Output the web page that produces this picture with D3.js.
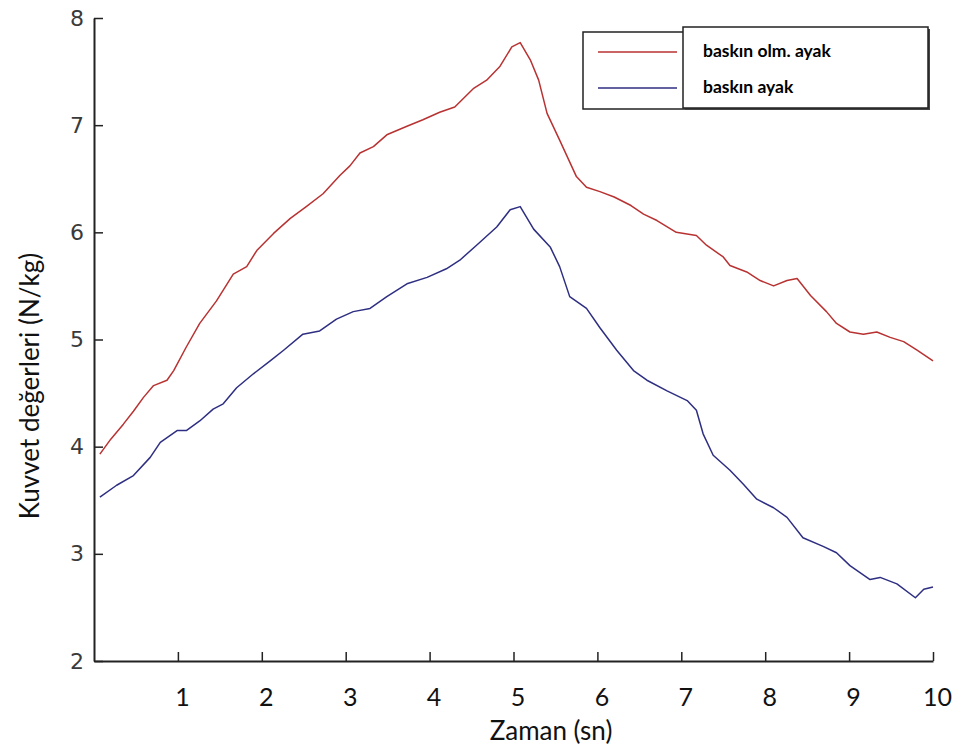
<!DOCTYPE html>
<html>
<head>
<meta charset="utf-8">
<script src="https://cdn.jsdelivr.net/npm/d3@7"></script>
<style>
  html, body { margin: 0; padding: 0; background: #fff; }
  svg { display: block; }
</style>
</head>
<body>
<svg id="chart" width="959" height="753"></svg>
<script>
// Time samples (s) and force values (N/kg) for each foot
const redTime = [0.07, 0.2, 0.35, 0.47, 0.59, 0.71, 0.87, 0.95, 1.10, 1.26, 1.46, 1.66, 1.82, 1.94, 2.14, 2.34, 2.53, 2.73, 2.93, 3.05, 3.17, 3.33, 3.49, 3.73, 3.92, 4.12, 4.30, 4.52, 4.68, 4.84, 4.98, 5.08, 5.20, 5.30, 5.40, 5.55, 5.75, 5.87, 6.03, 6.20, 6.40, 6.55, 6.71, 6.94, 7.18, 7.30, 7.50, 7.58, 7.78, 7.94, 8.10, 8.26, 8.38, 8.54, 8.73, 8.85, 9.01, 9.17, 9.33, 9.49, 9.65, 9.81, 10.0];
const redValues = [3.93, 4.07, 4.21, 4.33, 4.46, 4.57, 4.62, 4.71, 4.93, 5.15, 5.36, 5.61, 5.68, 5.83, 5.99, 6.13, 6.24, 6.36, 6.53, 6.62, 6.74, 6.80, 6.91, 6.99, 7.05, 7.12, 7.17, 7.34, 7.42, 7.55, 7.73, 7.77, 7.61, 7.42, 7.11, 6.86, 6.52, 6.42, 6.38, 6.33, 6.25, 6.17, 6.11, 6.00, 5.97, 5.88, 5.77, 5.69, 5.63, 5.55, 5.50, 5.55, 5.57, 5.41, 5.26, 5.15, 5.07, 5.05, 5.07, 5.02, 4.98, 4.90, 4.80];

const blueTime = [0.07, 0.27, 0.47, 0.67, 0.79, 0.99, 1.10, 1.26, 1.42, 1.54, 1.70, 1.90, 2.10, 2.26, 2.49, 2.69, 2.89, 3.09, 3.29, 3.49, 3.73, 3.97, 4.20, 4.36, 4.56, 4.80, 4.96, 5.08, 5.24, 5.44, 5.55, 5.67, 5.87, 6.03, 6.23, 6.43, 6.59, 6.83, 7.07, 7.18, 7.26, 7.38, 7.58, 7.74, 7.90, 8.10, 8.26, 8.45, 8.69, 8.85, 9.01, 9.25, 9.37, 9.57, 9.79, 9.89, 10.0];
const blueValues = [3.53, 3.64, 3.73, 3.90, 4.04, 4.15, 4.15, 4.24, 4.35, 4.40, 4.55, 4.68, 4.80, 4.90, 5.05, 5.08, 5.19, 5.26, 5.29, 5.40, 5.52, 5.58, 5.66, 5.74, 5.88, 6.05, 6.21, 6.24, 6.03, 5.86, 5.68, 5.40, 5.29, 5.11, 4.90, 4.71, 4.62, 4.52, 4.43, 4.34, 4.12, 3.92, 3.78, 3.65, 3.51, 3.43, 3.34, 3.15, 3.07, 3.01, 2.89, 2.76, 2.78, 2.72, 2.59, 2.67, 2.69];

const xTicks = [1, 2, 3, 4, 5, 6, 7, 8, 9, 10];
const yTicks = [2, 3, 4, 5, 6, 7, 8];
const seriesNames = ["baskın olm. ayak", "baskın ayak"];
const seriesColors = ["#b83232", "#2e2e82"];
const xTitle = "Zaman (sn)";
const yTitle = "Kuvvet değerleri (N/kg)";

const svg = d3.select("#chart");

const x = d3.scaleLinear().domain([0, 10]).range([94, 933]);
const y = d3.scaleLinear().domain([2, 8]).range([661, 18]);

const axisColor = "#222";
const textFont = "Lato, 'Open Sans', sans-serif";

// x axis with inward ticks
const gx = svg.append("g")
  .attr("transform", `translate(0,${y(2)})`)
  .call(d3.axisBottom(x).tickValues(xTicks).tickFormat(d3.format("d"))
    .tickSizeInner(-9).tickSizeOuter(0).tickPadding(27));
gx.select(".domain").attr("stroke", axisColor).attr("stroke-width", 2);
gx.selectAll(".tick line").attr("stroke", axisColor).attr("stroke-width", 1.5);
gx.selectAll(".tick text")
  .attr("x", 4)
  .attr("fill", "#111")
  .style("font-family", textFont)
  .style("font-size", "25px");

// y axis with inward ticks
const gy = svg.append("g")
  .attr("transform", `translate(${x(0)},0)`)
  .call(d3.axisLeft(y).tickValues(yTicks).tickFormat(d3.format("d"))
    .tickSizeInner(-9).tickSizeOuter(0).tickPadding(10));
gy.select(".domain").attr("stroke", axisColor).attr("stroke-width", 2);
gy.selectAll(".tick line").attr("stroke", axisColor).attr("stroke-width", 1.5);
gy.selectAll(".tick text")
  .attr("fill", "#3a3a3a")
  .style("font-family", "'DejaVu Sans', sans-serif")
  .style("font-size", "22px");

// axis titles
svg.append("text")
  .attr("x", 551).attr("y", 740)
  .attr("text-anchor", "middle")
  .attr("fill", "#111")
  .style("font-family", textFont)
  .style("font-size", "26px")
  .text(xTitle);

svg.append("text")
  .attr("transform", "translate(39,386) rotate(-90)")
  .attr("text-anchor", "middle")
  .attr("fill", "#111")
  .style("font-family", textFont)
  .style("font-size", "26px")
  .text(yTitle);

// data lines
const line = d3.line().x(d => x(d[0])).y(d => y(d[1]));
const series = [
  d3.zip(redTime, redValues),
  d3.zip(blueTime, blueValues)
];
series.forEach((pts, i) => {
  svg.append("path")
    .datum(pts)
    .attr("fill", "none")
    .attr("stroke", seriesColors[i])
    .attr("stroke-width", 1.5)
    .attr("stroke-linejoin", "round")
    .attr("d", line);
});

// legend: outer frame with sample lines, overlaid label box with shadow
const lg = svg.append("g");
lg.append("rect")
  .attr("x", 583).attr("y", 32).attr("width", 345).attr("height", 77)
  .attr("fill", "#fff").attr("stroke", axisColor).attr("stroke-width", 1.5);
lg.append("rect")
  .attr("x", 685).attr("y", 29).attr("width", 245).attr("height", 81)
  .attr("fill", "#444");
lg.append("rect")
  .attr("x", 683).attr("y", 27).attr("width", 245).attr("height", 81)
  .attr("fill", "#fff").attr("stroke", axisColor).attr("stroke-width", 1.5);

const legendRows = [52, 88];
seriesNames.forEach((name, i) => {
  lg.append("line")
    .attr("x1", 598).attr("x2", 677)
    .attr("y1", legendRows[i]).attr("y2", legendRows[i])
    .attr("stroke", seriesColors[i]).attr("stroke-width", 1.6);
  lg.append("text")
    .attr("x", 703).attr("y", legendRows[i] + 5)
    .attr("fill", "#000")
    .style("font-family", textFont)
    .style("font-weight", "bold")
    .style("font-size", "17.5px")
    .text(name);
});
</script>
</body>
</html>
